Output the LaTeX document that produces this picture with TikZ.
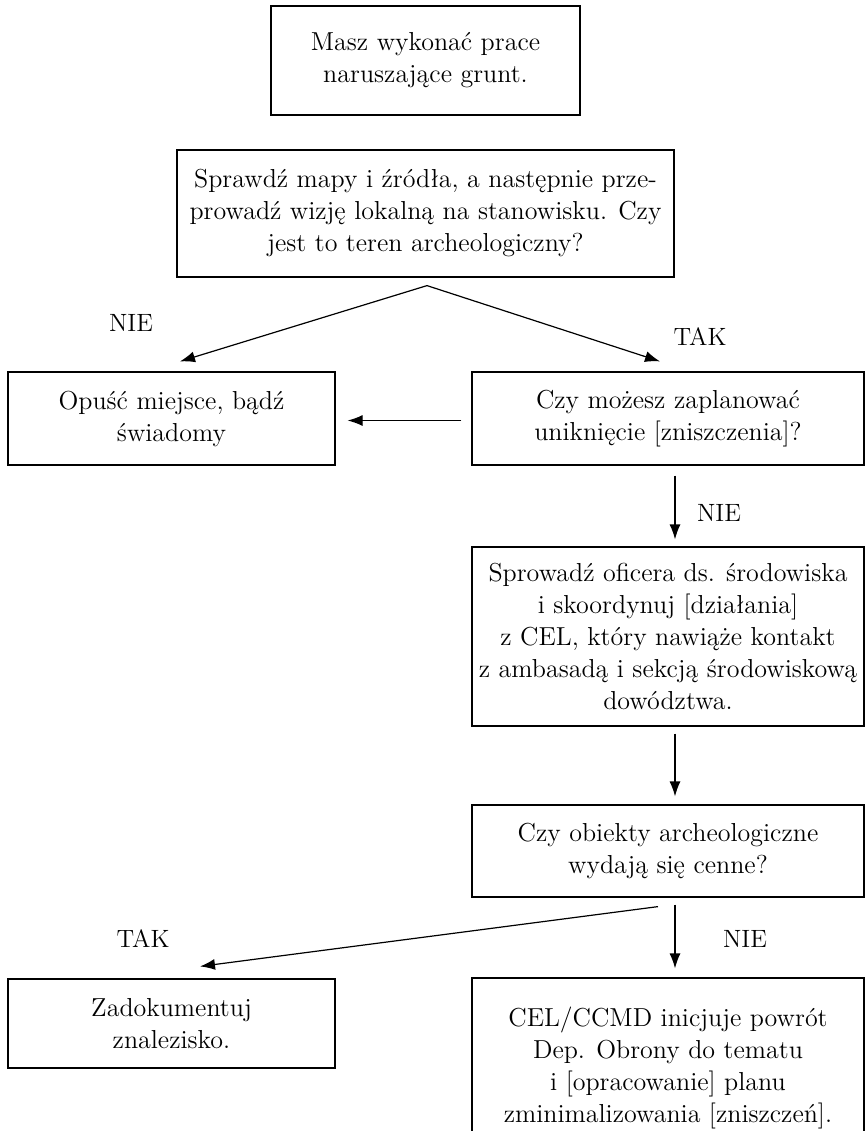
\documentclass[tikz,border=0pt]{standalone}
\usepackage{fontspec}
\usepackage{tikz}
\usetikzlibrary{arrows.meta,positioning,calc}

\begin{document}
\begin{tikzpicture}[x=0.5pt, y=-0.5pt,
		box/.style={draw, line width=0.6pt, align=center, inner sep=0pt,
			font=\fontsize{13}{16}\selectfont},
		lbl/.style={font=\fontsize{12.5}{15}\selectfont},
		arr/.style={-{Latex[length=7.5pt, width=5.5pt]}, line width=0.6pt}
		]
		\useasboundingbox (0,0) rectangle (866,1131);
		\clip (0,0) rectangle (866,1131);
		
		% Main spine
		\node[box, minimum width=154.5pt, minimum height=54.5pt] (start) at (425.5,60.5)
			{Masz wykonać prace\\ naruszające grunt.};
		\node[box, minimum width=248.5pt, minimum height=63.5pt] (check) at (425.5,213.5)
			{Sprawdź mapy i źródła, a następnie prze-\\ prowadź wizję lokalną na stanowisku. Czy\\ jest to teren archeologiczny?};
		
		% First decision
		\node[box, minimum width=163.5pt, minimum height=46.5pt] (leave) at (171.5,418.5)
			{Opuść miejsce, bądź\\ świadomy};
		\node[box, minimum width=196pt, minimum height=46.5pt] (plan) at (668,418.5)
			{Czy możesz zaplanować\\ uniknięcie [zniszczenia]?};
		
		% Right column
		\node[box, minimum width=196pt, minimum height=89.5pt] (consult) at (668,636.5)
			{Sprowadź oficera ds. środowiska\\ i skoordynuj [działania]\\ z CEL, który nawiąże kontakt\\ z ambasadą i sekcją środowiskową\\ dowództwa.};
		\node[box, minimum width=196pt, minimum height=46pt] (valuable) at (668,851)
			{Czy obiekty archeologiczne\\ wydają się cenne?};
		
		% Outcomes
		\node[box, minimum width=163.5pt, minimum height=44.5pt] (record) at (171.5,1023.5)
			{Zadokumentuj\\ znalezisko.};
		\node[box, minimum width=196pt, minimum height=90pt] (minimise) at (668,1068)
			{CEL/CCMD inicjuje powrót\\ Dep. Obrony do tematu\\ i [opracowanie] planu\\ zminimalizowania [zniszczeń].};
		
		% Labels
		\node[lbl] (no1)  at (131,323) {NIE};
		\node[lbl] (yes1) at (700,337) {TAK};
		\node[lbl] (no2)  at (719,513) {NIE};
		\node[lbl] (yes2) at (143,939) {TAK};
		\node[lbl] (no3)  at (745,939) {NIE};
		
		% Arrows
		\coordinate (split) at ($(check.south)+(1.5,8)$);
		\draw[arr] (split) -- ($(leave.north)+(8.5,-10)$);
		\draw[arr] (split) -- ($(plan.north)+(-8,-10)$);
		\draw[arr] ($(plan.west)+(-10,2)$) -- ($(leave.east)+(12,2)$);
		\draw[arr] ($(plan.south)+(7,10)$) -- ($(consult.north)+(7,-7)$);
		\draw[arr] ($(consult.south)+(7,7)$) -- ($(valuable.north)+(7,-8)$);
		\draw[arr] ($(valuable.south)+(-10,9)$) -- ($(record.north)+(28.5,-12)$);
		\draw[arr] ($(valuable.south)+(7,7)$) -- ($(minimise.north)+(7,-9)$);
	\end{tikzpicture}
\end{document}
